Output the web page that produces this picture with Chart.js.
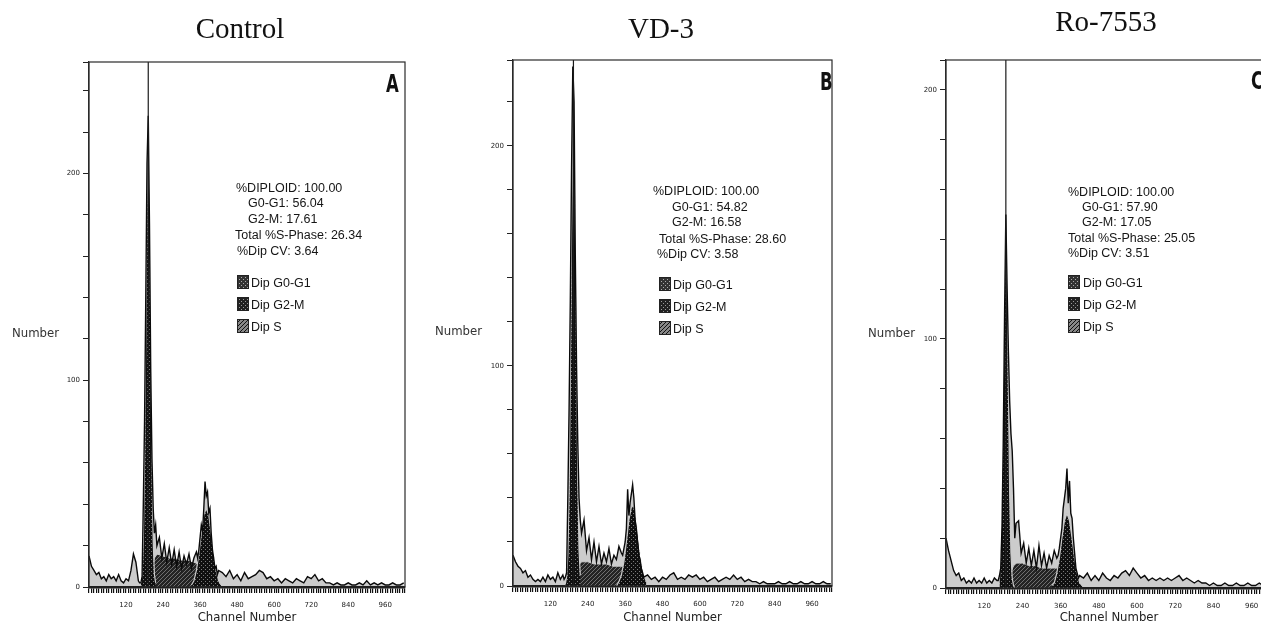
<!DOCTYPE html>
<html>
<head>
<meta charset="utf-8">
<script src="https://cdn.jsdelivr.net/npm/chart.js@4.4.1/dist/chart.umd.min.js"></script>
<style>
  html, body { margin: 0; padding: 0; background: #fff; }
  body { width: 1261px; height: 625px; overflow: hidden; position: relative; }
  canvas { position: absolute; top: 0; }
</style>
</head>
<body>
<canvas id="panelA" width="420" height="625" style="left:0px"></canvas>
<canvas id="panelB" width="420" height="625" style="left:420px"></canvas>
<canvas id="panelC" width="440" height="625" style="left:840px"></canvas>
<script>
// channel numbers of the histogram points (finer around the two peaks)
const channels = [
  0, 8, 16, 24, 32, 40, 48, 56, 64, 72, 80, 88, 96, 104, 112, 120, 128, 136, 144, 152, 160,
  164, 168, 172, 176, 180, 184, 188, 192, 196, 200, 204, 208, 212, 216, 220,
  228, 236, 244, 252, 260, 268, 276, 284, 292, 300, 308, 316, 324, 332, 340, 348,
  352, 356, 360, 364, 368, 372, 376, 380, 384, 388, 392, 396, 400, 404, 408, 412, 416, 420,
  432, 444, 456, 468, 480, 492, 504, 516, 528, 540, 552, 564, 576, 588, 600, 612, 624, 636, 648, 660,
  672, 684, 696, 708, 720, 732, 744, 756, 768, 780, 792, 804, 816, 828, 840, 852, 864, 876, 888, 900,
  912, 924, 936, 948, 960, 972, 984, 996, 1008, 1020
];

const countsA = [
  15, 10, 8, 6, 7, 4, 5, 3, 6, 4, 5, 3, 6, 3, 2, 4, 3, 8, 16, 12, 3,
  2, 2, 5, 40, 80, 140, 205, 228, 175, 105, 62, 38, 26, 30, 20,
  24, 14, 21, 12, 19, 11, 18, 10, 17, 9, 15, 11, 16, 9, 14, 17,
  14, 18, 24, 30, 27, 38, 51, 44, 46, 36, 38, 26, 18, 14, 9, 10, 6, 8,
  7, 5, 8, 4, 6, 3, 7, 4, 5, 6, 8, 7, 4, 5, 3, 4, 2, 4, 3, 2,
  4, 3, 2, 5, 4, 6, 3, 4, 2, 2, 1, 2, 1, 1, 2, 1, 1, 2, 1, 3,
  1, 2, 1, 2, 1, 1, 2, 1, 1, 2
];
const countsB = [
  14, 11, 9, 8, 6, 7, 4, 5, 3, 2, 3, 2, 4, 2, 5, 3, 4, 2, 6, 3, 5,
  3, 4, 6, 40, 80, 130, 190, 236, 220, 150, 100, 65, 40, 30, 24,
  30, 16, 22, 12, 20, 11, 18, 10, 15, 11, 17, 10, 14, 12, 18, 15,
  14, 17, 20, 26, 44, 32, 38, 42, 46, 40, 30, 26, 20, 14, 12, 8, 6, 4,
  5, 3, 4, 2, 4, 3, 5, 6, 3, 4, 3, 5, 4, 5, 3, 4, 2, 3, 4, 2,
  3, 4, 3, 5, 3, 4, 2, 3, 2, 2, 1, 2, 1, 1, 1, 2, 1, 1, 2, 1,
  1, 2, 1, 1, 2, 1, 1, 2, 1, 1
];
const countsC = [
  20, 15, 11, 7, 5, 6, 3, 4, 2, 3, 2, 4, 2, 3, 2, 4, 2, 3, 2, 4, 3,
  3, 5, 8, 25, 60, 110, 150, 120, 95, 75, 62, 55, 40, 20, 26,
  27, 14, 18, 10, 16, 9, 15, 8, 17, 9, 14, 8, 13, 10, 15, 12,
  13, 16, 20, 24, 32, 36, 40, 48, 34, 43, 30, 28, 20, 14, 8, 6, 4, 5,
  4, 6, 3, 5, 3, 6, 4, 3, 5, 4, 6, 7, 5, 8, 6, 4, 5, 3, 4, 3,
  4, 3, 4, 3, 4, 5, 3, 4, 3, 2, 3, 2, 2, 1, 2, 1, 1, 2, 1, 1,
  2, 1, 1, 2, 1, 1, 2, 1, 1, 2
];

// fitted model curves (G0-G1, G2-M, S-phase)
const g1Channels = [168, 172, 176, 180, 184, 188, 192, 196, 200, 204, 208, 212, 216];
const g1A = [2, 6, 22, 62, 125, 185, 205, 185, 125, 62, 22, 6, 2];
const g1B = [1, 4, 14, 42, 95, 160, 205, 210, 170, 105, 48, 16, 5];
const g1C = [4, 14, 38, 80, 122, 140, 122, 80, 38, 14, 4, 1, 0];

const g2Channels = [332, 340, 348, 356, 364, 372, 380, 388, 396, 404, 412, 420, 428];
const g2A = [1, 3, 8, 16, 26, 35, 38, 35, 26, 16, 8, 3, 1];
const g2B = [0, 2, 5, 11, 20, 30, 36, 36, 30, 20, 11, 5, 2];
const g2C = [1, 2, 6, 12, 20, 27, 30, 27, 20, 12, 6, 2, 1];

const sChannels = [196, 204, 212, 220, 240, 260, 280, 300, 320, 340, 356, 368, 380, 392, 400];
const sA = [0, 8, 14, 16, 15, 14, 14, 13, 13, 12, 11, 9, 6, 2, 0];
const sB = [0, 6, 10, 11, 11, 10, 10, 10, 9, 9, 9, 8, 5, 2, 0];
const sC = [0, 6, 9, 10, 10, 9, 9, 8, 8, 8, 8, 7, 5, 2, 0];

const cursorA = 192, cursorB = 194, cursorC = 188;
const yMaxA = 254, yMaxB = 239, yMaxC = 212;

const titles = ['Control', 'VD-3', 'Ro-7553'];
const letters = ['A', 'B', 'C'];
const statsA = ['%DIPLOID: 100.00', 'G0-G1: 56.04', 'G2-M: 17.61', 'Total %S-Phase: 26.34', '%Dip CV: 3.64'];
const statsB = ['%DIPLOID: 100.00', 'G0-G1: 54.82', 'G2-M: 16.58', 'Total %S-Phase: 28.60', '%Dip CV: 3.58'];
const statsC = ['%DIPLOID: 100.00', 'G0-G1: 57.90', 'G2-M: 17.05', 'Total %S-Phase: 25.05', '%Dip CV: 3.51'];
const legendLabels = ['Dip G0-G1', 'Dip G2-M', 'Dip S'];

function makePattern(bg, fg, kind) {
  const c = document.createElement('canvas');
  c.width = 4; c.height = 4;
  const g = c.getContext('2d');
  g.fillStyle = bg; g.fillRect(0, 0, 4, 4);
  g.fillStyle = fg;
  if (kind === 'dots') {
    g.fillRect(1, 1, 1, 1);
    g.fillRect(3, 3, 1, 1);
  } else {
    for (let i = 0; i < 4; i++) g.fillRect(i, 3 - i, 1, 1);
  }
  return g.createPattern(c, 'repeat');
}
const stipple = makePattern('#141414', '#9a9a9a', 'dots');
const hatch = makePattern('#2e2e2e', '#8c8c8c', 'diag');
const swatches = [
  makePattern('#333', '#aaa', 'dots'),
  makePattern('#222', '#999', 'dots'),
  makePattern('#888', '#111', 'diag')
];

const panelDecor = {
  id: 'panelDecor',
  afterDraw(chart, args, o) {
    const ctx = chart.ctx;
    const a = chart.chartArea;
    ctx.save();
    ctx.strokeStyle = '#2a2a2a';
    ctx.lineWidth = 1.2;
    ctx.strokeRect(a.left, a.top, a.right - a.left, a.bottom - a.top);

    ctx.textBaseline = 'alphabetic';
    ctx.fillStyle = '#111';
    ctx.font = '29px "Liberation Serif", "Times New Roman", serif';
    ctx.textAlign = 'center';
    ctx.fillText(o.title, o.titleX, o.titleY);

    // condensed bold panel letter
    ctx.textAlign = 'left';
    ctx.save();
    ctx.translate(o.letterX, o.letterY);
    ctx.scale(0.66, 1);
    ctx.font = 'bold 25px "DejaVu Sans", sans-serif';
    ctx.fillText(o.letter, 0, 0);
    ctx.restore();

    ctx.fillStyle = '#333';
    ctx.font = '13px "DejaVu Sans Condensed", "DejaVu Sans", sans-serif';
    ctx.fillText('Number', o.yLabelX, o.yLabelY);

    ctx.fillStyle = '#151515';
    ctx.font = '12.5px "Liberation Sans", Arial, sans-serif';
    o.stats.forEach((t, i) => ctx.fillText(t, o.statX[i], o.statY[i]));

    legendLabels.forEach((t, i) => {
      const y = o.legendTop + i * 22;
      ctx.fillStyle = swatches[i];
      ctx.fillRect(o.swatchX, y, 11, 13);
      ctx.strokeStyle = '#222';
      ctx.lineWidth = 1;
      ctx.strokeRect(o.swatchX + 0.5, y + 0.5, 11, 13);
      ctx.fillStyle = '#151515';
      ctx.fillText(t, o.legendTextX, y + 12);
    });
    ctx.restore();
  }
};

function toPts(xs, ys) {
  return xs.map((x, i) => ({ x: x, y: ys[i] }));
}

function buildPanel(id, counts, g1, g2, s, cursor, yMax, frame, deco) {
  return new Chart(document.getElementById(id), {
    type: 'line',
    data: {
      datasets: [
        { data: [{ x: cursor, y: 0 }, { x: cursor, y: yMax }], borderColor: '#1a1a1a', borderWidth: 1.2, pointRadius: 0, fill: false, order: -1 },
        { data: toPts(channels, counts), borderColor: '#0a0a0a', borderWidth: 1.4, backgroundColor: 'rgba(0,0,0,0.2)', fill: 'origin', pointRadius: 0, order: 0 },
        { data: toPts(g1Channels, g1), borderColor: '#fff', borderWidth: 1.2, backgroundColor: stipple, fill: 'origin', pointRadius: 0, order: 1 },
        { data: toPts(g2Channels, g2), borderColor: '#fff', borderWidth: 1.2, backgroundColor: stipple, fill: 'origin', pointRadius: 0, order: 1 },
        { data: toPts(sChannels, s), borderColor: '#fff', borderWidth: 1, backgroundColor: hatch, fill: 'origin', pointRadius: 0, order: 2 }
      ]
    },
    options: {
      responsive: false,
      animation: false,
      layout: { padding: { top: frame.top, right: frame.right, left: 0, bottom: 0 } },
      elements: { line: { tension: 0 } },
      plugins: { legend: { display: false }, tooltip: { enabled: false }, panelDecor: deco },
      scales: {
        x: {
          type: 'linear', min: 0, max: 1024,
          afterFit: sc => { sc.height = frame.xHeight; },
          border: { color: '#111', width: 2.5 },
          grid: { drawOnChartArea: false, tickLength: 6, color: '#111', lineWidth: 1.2 },
          ticks: {
            stepSize: 8, maxTicksLimit: 1000, autoSkip: false, maxRotation: 0, minRotation: 0,
            padding: 8, color: '#222', font: { size: 7, family: '"DejaVu Sans", sans-serif' },
            callback: v => (v > 0 && v % 120 === 0) ? String(v) : ''
          },
          title: { display: true, text: 'Channel Number', padding: 0, color: '#222', font: { size: 13, family: '"DejaVu Sans Condensed", "DejaVu Sans", sans-serif' } }
        },
        y: {
          min: 0, max: yMax,
          afterFit: sc => { sc.width = frame.yWidth; },
          border: { color: '#2a2a2a', width: 1.2 },
          grid: { drawOnChartArea: false, tickLength: 6, color: '#222' },
          ticks: {
            stepSize: 20, autoSkip: false, padding: 3, color: '#222',
            font: { size: 7, family: '"DejaVu Sans", sans-serif' },
            callback: v => (v % 100 === 0) ? String(v) : ''
          }
        }
      }
    },
    plugins: [panelDecor]
  });
}

buildPanel('panelA', countsA, g1A, g2A, sA, cursorA, yMaxA,
  { top: 62, right: 15, yWidth: 89, xHeight: 38 },
  { title: titles[0], titleX: 240, titleY: 38, letter: letters[0], letterX: 386, letterY: 92,
    yLabelX: 12, yLabelY: 337, stats: statsA,
    statX: [236, 248, 248, 235, 237], statY: [192, 207, 223, 239, 255],
    swatchX: 237, legendTop: 275, legendTextX: 251 });

buildPanel('panelB', countsB, g1B, g2B, sB, cursorB, yMaxB,
  { top: 60, right: 5, yWidth: 93, xHeight: 39 },
  { title: titles[1], titleX: 241, titleY: 38, letter: letters[1], letterX: 400, letterY: 90,
    yLabelX: 15, yLabelY: 335, stats: statsB,
    statX: [233, 252, 252, 239, 237], statY: [195, 211, 226, 243, 258],
    swatchX: 239, legendTop: 277, legendTextX: 253 });

buildPanel('panelC', countsC, g1C, g2C, sC, cursorC, yMaxC,
  { top: 60, right: 3, yWidth: 106, xHeight: 37 },
  { title: titles[2], titleX: 266, titleY: 31, letter: letters[2], letterX: 411, letterY: 89,
    yLabelX: 28, yLabelY: 337, stats: statsC,
    statX: [228, 242, 242, 228, 228], statY: [196, 211, 226, 242, 257],
    swatchX: 228, legendTop: 275, legendTextX: 243 });
</script>
</body>
</html>
